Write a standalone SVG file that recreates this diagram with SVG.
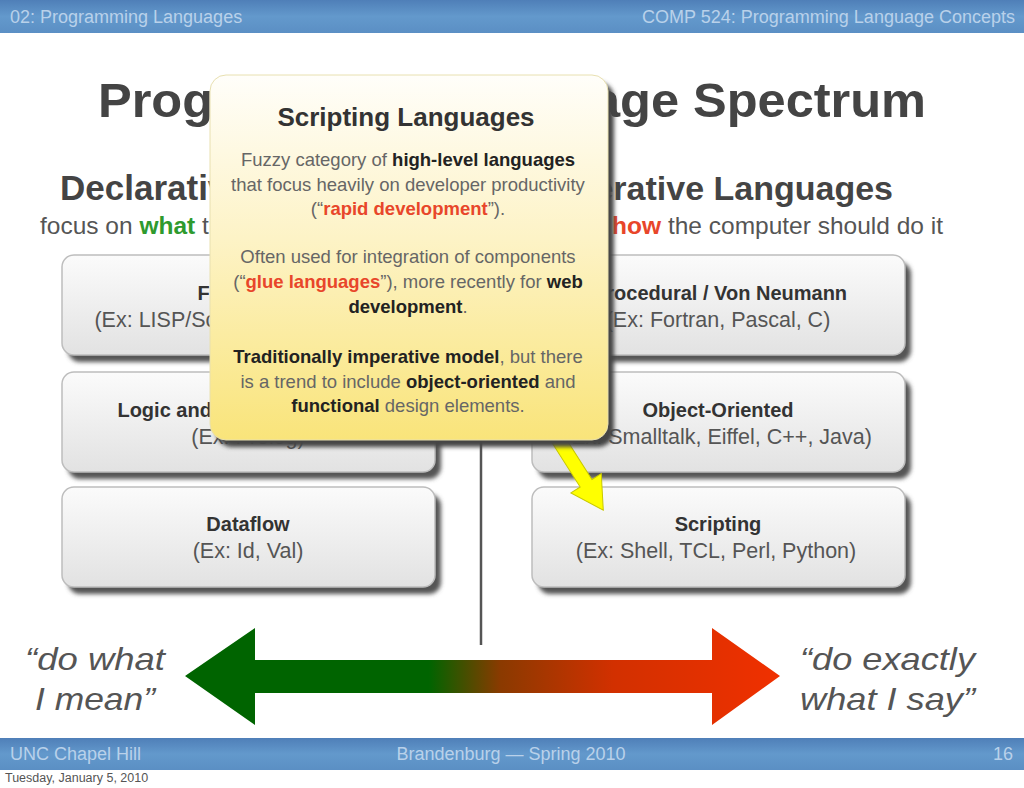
<svg xmlns="http://www.w3.org/2000/svg" width="1024" height="788" viewBox="0 0 1024 788">
<defs>
<linearGradient id="bar" x1="0" y1="0" x2="0" y2="1"><stop offset="0" stop-color="#4f7fb8"/><stop offset="0.5" stop-color="#6399cc"/><stop offset="1" stop-color="#5b8fc4"/></linearGradient>
<linearGradient id="box" x1="0" y1="0" x2="0" y2="1"><stop offset="0" stop-color="#fbfbfb"/><stop offset="1" stop-color="#e2e2e2"/></linearGradient>
<linearGradient id="note" x1="0" y1="0" x2="0" y2="1"><stop offset="0" stop-color="#fffefa"/><stop offset="0.45" stop-color="#fdf3c6"/><stop offset="1" stop-color="#f9e47a"/></linearGradient>
<linearGradient id="spec" x1="185" y1="0" x2="780" y2="0" gradientUnits="userSpaceOnUse"><stop offset="0" stop-color="#006400"/><stop offset="0.41" stop-color="#006400"/><stop offset="0.53" stop-color="#8a3a00"/><stop offset="0.72" stop-color="#d23000"/><stop offset="1" stop-color="#f03000"/></linearGradient>
<filter id="sh" x="-10%" y="-10%" width="125%" height="130%"><feGaussianBlur stdDeviation="2"/></filter>
</defs>
<style>
text{font-family:"Liberation Sans",Arial,sans-serif}
.hdr{font-size:18px;fill:#b9d1ea}
.bt{font-size:20px;font-weight:bold;fill:#333;text-anchor:middle}
.bs{font-size:21.5px;fill:#555;text-anchor:middle}
.shadow{fill:#555;filter:url(#sh)}
.card{fill:url(#box);stroke:#bdbdbd;stroke-width:1.5}
.nt{font-size:18.5px;fill:#666;text-anchor:middle}
.b{font-weight:bold;fill:#222}
.r{font-weight:bold;fill:#e8462a}
.q{font-size:32px;font-style:italic;fill:#555}
</style>
<rect width="1024" height="788" fill="#ffffff"/>
<g id="header">
<rect x="0" y="0" width="1024" height="33" fill="url(#bar)"/>
<text class="hdr" x="10" y="23">02: Programming Languages</text>
<text class="hdr" x="1015" y="23" text-anchor="end">COMP 524: Programming Language Concepts</text>
</g>
<g id="title">
<text x="98" y="117" font-size="49" font-weight="bold" fill="#444" textLength="828" lengthAdjust="spacingAndGlyphs">Programming Language Spectrum</text>
</g>
<g id="declarative">
<text x="60" y="200" font-size="35" font-weight="bold" fill="#444">Declarative Languages</text>
<text x="40" y="234" font-size="24.5" fill="#555">focus on <tspan fill="#2e9a2e" font-weight="bold">what</tspan> the computer should do</text>
</g>
<g id="imperative">
<text x="893" y="200" font-size="34" font-weight="bold" fill="#444" text-anchor="end">Imperative Languages</text>
<text x="943" y="234" font-size="24.5" fill="#555" text-anchor="end">focus on <tspan fill="#e8462a" font-weight="bold">how</tspan> the computer should do it</text>
</g>
<g id="divider"><line x1="481" y1="430" x2="481" y2="645" stroke="#555" stroke-width="2.5"/></g>
<g id="functional">
<rect class="shadow" x="68" y="262" width="373" height="100" rx="12"/>
<rect class="card" x="62" y="255" width="373" height="100" rx="12"/>
<text class="bt" x="248" y="300">Functional</text>
<text class="bs" x="248" y="327">(Ex: LISP/Scheme, ML, Haskell)</text>
</g>
<g id="logic">
<rect class="shadow" x="68" y="379" width="373" height="100" rx="12"/>
<rect class="card" x="62" y="372" width="373" height="100" rx="12"/>
<text class="bt" x="248" y="417">Logic and constraint-based</text>
<text class="bs" x="248" y="444">(Ex: Prolog)</text>
</g>
<g id="dataflow">
<rect class="shadow" x="68" y="494" width="373" height="100" rx="12"/>
<rect class="card" x="62" y="487" width="373" height="100" rx="12"/>
<text class="bt" x="248" y="531">Dataflow</text>
<text class="bs" x="248" y="558">(Ex: Id, Val)</text>
</g>
<g id="procedural">
<rect class="shadow" x="538" y="262" width="373" height="100" rx="12"/>
<rect class="card" x="532" y="255" width="373" height="100" rx="12"/>
<text class="bt" x="720" y="300">Procedural / Von Neumann</text>
<text class="bs" x="718" y="327">(Ex: Fortran, Pascal, C)</text>
</g>
<g id="oo">
<rect class="shadow" x="538" y="379" width="373" height="100" rx="12"/>
<rect class="card" x="532" y="372" width="373" height="100" rx="12"/>
<text class="bt" x="718" y="417">Object-Oriented</text>
<text class="bs" x="718" y="444">(Ex: Smalltalk, Eiffel, C++, Java)</text>
</g>
<g id="scripting">
<rect class="shadow" x="538" y="494" width="373" height="100" rx="12"/>
<rect class="card" x="532" y="487" width="373" height="100" rx="12"/>
<text class="bt" x="718" y="531">Scripting</text>
<text class="bs" x="716" y="558">(Ex: Shell, TCL, Perl, Python)</text>
</g>
<g id="connectors">
<g transform="translate(556,436) rotate(57.5)">
<polygon points="0,-7 56,-7 56,-18 88,0 56,18 56,7 0,7" fill="#ffff00" stroke="#c8c800" stroke-width="1"/>
</g>
</g>
<g id="popup">
<rect x="216" y="82" width="398" height="365" rx="16" fill="#444" filter="url(#sh)"/>
<rect x="210" y="75" width="398" height="365" rx="16" fill="url(#note)" stroke="#e8e0b0" stroke-width="1"/>
<text x="406" y="126" font-size="26" font-weight="bold" fill="#333" text-anchor="middle">Scripting Languages</text>
<text class="nt" x="408" y="166">Fuzzy category of <tspan class="b">high-level languages</tspan></text>
<text class="nt" x="408" y="191">that focus heavily on developer productivity</text>
<text class="nt" x="408" y="215">(“<tspan class="r">rapid development</tspan>”).</text>
<text class="nt" x="408" y="263">Often used for integration of components</text>
<text class="nt" x="408" y="288">(“<tspan class="r">glue languages</tspan>”), more recently for <tspan class="b">web</tspan></text>
<text class="nt" x="408" y="313"><tspan class="b">development</tspan>.</text>
<text class="nt" x="408" y="363"><tspan class="b">Traditionally imperative model</tspan>, but there</text>
<text class="nt" x="408" y="388">is a trend to include <tspan class="b">object-oriented</tspan> and</text>
<text class="nt" x="408" y="412"><tspan class="b">functional</tspan> design elements.</text>
</g>
<g id="spectrum">
<polygon points="185,676 255,628 255,660 712,660 712,628 780,676 712,725 712,693 255,693 255,725" fill="url(#spec)"/>
<text class="q" x="25" y="670" textLength="140" lengthAdjust="spacingAndGlyphs">“do what</text>
<text class="q" x="35" y="710" textLength="120" lengthAdjust="spacingAndGlyphs">I mean”</text>
<text class="q" x="800" y="670" textLength="175" lengthAdjust="spacingAndGlyphs">“do exactly</text>
<text class="q" x="800" y="710" textLength="175" lengthAdjust="spacingAndGlyphs">what I say”</text>
</g>
<g id="footer">
<rect x="0" y="738" width="1024" height="32" fill="url(#bar)"/>
<text class="hdr" x="10" y="760">UNC Chapel Hill</text>
<text class="hdr" x="511" y="760" text-anchor="middle">Brandenburg — Spring 2010</text>
<text class="hdr" x="1013" y="760" text-anchor="end">16</text>
<text x="5" y="782" font-size="12.5" fill="#555">Tuesday, January 5, 2010</text>
</g>
</svg>
